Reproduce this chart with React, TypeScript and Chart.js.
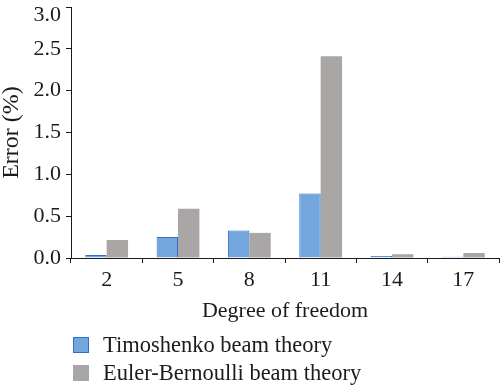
import React, { useEffect, useRef } from "react";
import { Chart, registerables } from "chart.js";

Chart.register(...registerables);

const categories = ["2", "5", "8", "11", "14", "17"];
const timoshenko = [0.035, 0.25, 0.33, 0.77, 0.025, 0.015];
const eulerBernoulli = [0.215, 0.59, 0.3, 2.41, 0.045, 0.06];
const seriesNames = ["Timoshenko beam theory", "Euler-Bernoulli beam theory"];
const yTicks = [0, 0.5, 1.0, 1.5, 2.0, 2.5, 3.0];

const FONT = "'Liberation Serif', 'DejaVu Serif', serif";
const INK = "#1d1a1b";
const BLUE_FILL = "#72a6dc";
const BLUE_EDGE = "#2f6fc6";
const GREY = "#aaa6a6";

const legendPlugin = {
  id: "stackedLegend",
  afterDraw(chart: any) {
    const ctx = chart.ctx;
    const ds = chart.data.datasets;
    ctx.save();
    ctx.font = `22.5px ${FONT}`;
    ctx.textBaseline = "middle";
    ctx.textAlign = "left";
    ds.forEach((d: any, i: number) => {
      const y = 337 + i * 28;
      ctx.fillStyle = d.backgroundColor;
      ctx.fillRect(73, y, 16, 16);
      if (d.borderWidth) {
        ctx.strokeStyle = d.borderColor;
        ctx.lineWidth = 1;
        ctx.strokeRect(73.5, y + 0.5, 15, 15);
      }
      ctx.fillStyle = INK;
      ctx.fillText(d.label, 103, y + 9);
    });
    ctx.restore();
  },
};

export default function App() {
  const ref = useRef<HTMLCanvasElement>(null);
  useEffect(() => {
    if (!ref.current) return;
    const chart = new Chart(ref.current, {
      type: "bar",
      data: {
        labels: categories,
        datasets: [
          {
            label: seriesNames[0],
            data: timoshenko,
            backgroundColor: BLUE_FILL,
            borderColor: BLUE_EDGE,
            borderWidth: 1,
            categoryPercentage: 0.6,
            barPercentage: 1.0,
          },
          {
            label: seriesNames[1],
            data: eulerBernoulli,
            backgroundColor: GREY,
            borderWidth: 0,
            categoryPercentage: 0.6,
            barPercentage: 1.0,
          },
        ],
      },
      options: {
        animation: false,
        responsive: false,
        layout: { padding: { top: 7, right: 1, bottom: 66, left: 0 } },
        plugins: {
          legend: { display: false },
          tooltip: { enabled: false },
        },
        scales: {
          x: {
            offset: true,
            grid: {
              display: true,
              offset: true,
              drawOnChartArea: false,
              drawTicks: true,
              tickLength: 5,
              color: INK,
            },
            border: { display: true, color: INK, width: 1 },
            ticks: { color: INK, font: { family: FONT, size: 22 }, padding: 4 },
            title: {
              display: true,
              text: "Degree of freedom",
              color: INK,
              font: { family: FONT, size: 22, lineHeight: 1.05 },
              padding: 0,
            },
            afterFit: (s: any) => {
              s.height = 65;
              s.paddingLeft = 0;
              s.paddingRight = 0;
            },
          },
          y: {
            min: 0,
            max: 3,
            afterBuildTicks: (s: any) => {
              s.ticks = yTicks.map((v) => ({ value: v }));
            },
            grid: {
              display: true,
              drawOnChartArea: false,
              drawTicks: true,
              tickLength: 5,
              color: INK,
            },
            border: { display: true, color: INK, width: 1 },
            ticks: {
              color: INK,
              font: (c: any) => ({
                family: FONT,
                size: 22,
                lineHeight: c.tick && c.tick.value === 3 ? "16px" : 1.2,
              }),
              padding: 5,
              callback: (v: any) => {
                const s = Number(v).toFixed(1);
                return Number(v) === 3 ? ["", s] : s;
              },
            },
            title: {
              display: true,
              text: "Error (%)",
              color: INK,
              font: { family: FONT, size: 24, lineHeight: 0.96 },
              padding: 0,
            },
            afterFit: (s: any) => {
              s.width = 71;
              s.paddingTop = 0;
              s.paddingBottom = 0;
            },
          },
        },
      },
      plugins: [legendPlugin],
    });
    return () => chart.destroy();
  }, []);
  return (
    <div style={{ position: "fixed", left: 0, top: 0, width: 500, height: 389, background: "#fff" }}>
      <canvas ref={ref} width={500} height={389} />
    </div>
  );
}
